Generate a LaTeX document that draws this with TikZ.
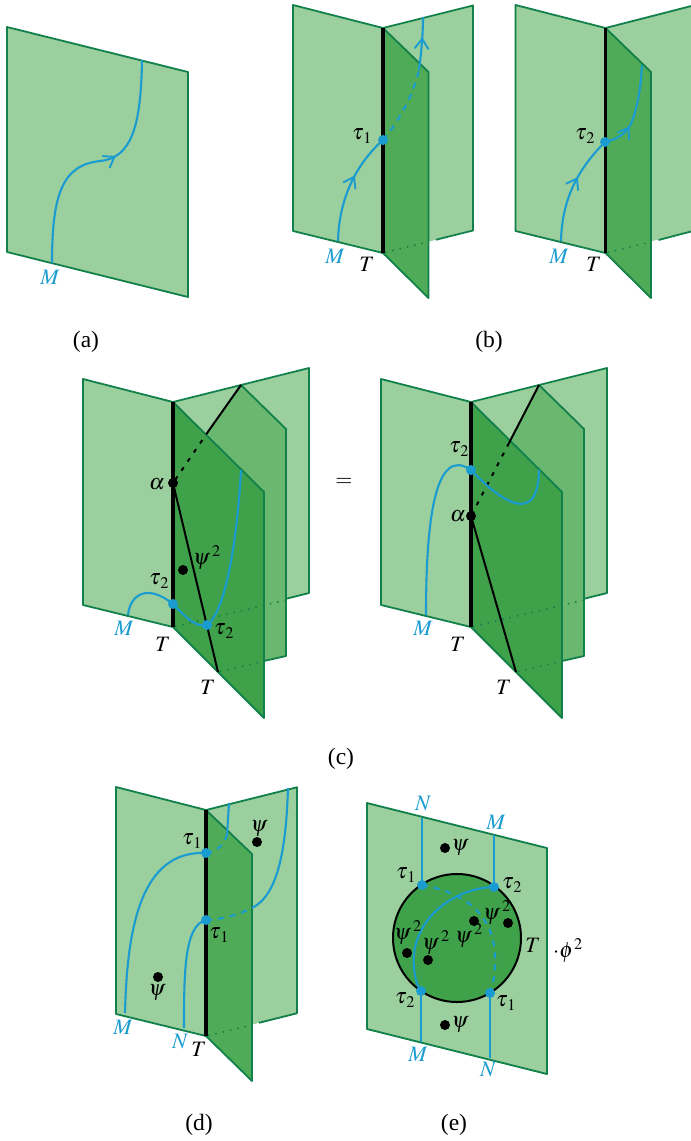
\documentclass[tikz,border=0pt]{standalone}
\usepackage{mathptmx}
\usepackage{fontspec}
\setmainfont{Liberation Serif}
\usetikzlibrary{arrows.meta,decorations.markings}
\definecolor{pgA}{HTML}{9BCF9D}
\definecolor{pgB}{HTML}{4FAB57}
\definecolor{pgC}{HTML}{3FA14A}
\definecolor{pgD}{HTML}{6AB86F}
\definecolor{edgeG}{HTML}{12804A}
\definecolor{lineB}{HTML}{1A9CD0}
\tikzset{
  x=1pt,y=-1pt,
  pagefill/.style={fill=#1,line join=round},
  edgeline/.style={draw=edgeG,line width=1.8pt,line join=round},
  hidden/.style={draw=edgeG,line width=1.5pt,dash pattern=on 1.5pt off 6pt},
  hinge/.style={draw=black,line width=3.4pt},
  blackline/.style={draw=black,line width=2pt},
  blackdash/.style={draw=black,line width=2pt,dash pattern=on 4pt off 7pt},
  blueline/.style={draw=lineB,line width=2.1pt},
  bluedash/.style={draw=lineB,line width=2.1pt,dash pattern=on 6pt off 6pt},
  bluedot/.style={circle,fill=lineB,inner sep=0pt,minimum size=10pt},
  blackdot/.style={circle,fill=black,inner sep=0pt,minimum size=10pt},
  lab/.style={inner sep=0pt,text=black,font=\fontsize{22}{24}\selectfont},
  bluelab/.style={lab,text=lineB},
  caplab/.style={inner sep=0pt,font=\fontsize{23.5}{25}\selectfont},
  midbarb/.style={postaction={decorate,decoration={markings,mark=at position #1 with {\arrow{Straight Barb[length=10pt,width=14pt,line width=1.9pt]}}}}}
}
\newcommand{\tn}[1]{\tau_{\hspace{1.5pt}#1}}
\newcommand{\psq}{\psi^{\hspace{2pt}2}}
% left page and back page: hinge x, hinge top y, hinge bottom y, width of back page, where its bottom edge shows
\newcommand{\twopages}[5]{%
  \path[edgeline,pagefill=pgA] (#1-90,#2-23) -- (#1,#2) -- (#1,#3) -- (#1-90,#3-22) -- cycle;
  \path[pagefill=pgA] (#1,#2) -- (#1+#4,#2-#4*0.25) -- (#1+#4,#3-#4*0.25) -- (#1,#3) -- cycle;
  \draw[edgeline] (#1,#2) -- (#1+#4,#2-#4*0.25) -- (#1+#4,#3-#4*0.25) -- (#1+#5,#3-#5*0.25);
}
\begin{document}
\begin{tikzpicture}
\useasboundingbox (0,0) rectangle (691,1141);

% ---------- (a)
\path[edgeline,pagefill=pgA] (7,27) -- (188,72) -- (188,297) -- (7,252) -- cycle;
\coordinate (a1) at (52,263);
\coordinate (a2) at (142,60);
\draw[blueline,midbarb=.58] (a1) .. controls (52,195) and (62,165) .. (100,161)
  .. controls (132,158) and (141,125) .. (a2);
\node[bluelab] (aM) at (50,277) {$M$};
\node[caplab] (capa) at (86,342) {(a)};

% ---------- (b) left
\twopages{383}{28}{253}{90}{53}
\path[edgeline,pagefill=pgB] (383,28) -- (428.5,72) -- (428.5,298) -- (383,253) -- cycle;
\draw[hidden] (385,252.5) -- (428,242);
\coordinate (b1t) at (383,140);
\coordinate (b1m) at (338,241);
\coordinate (b1e) at (423,17);
\draw[blueline,midbarb=.6] (b1m) .. controls (339,200) and (355,165) .. (b1t);
\draw[bluedash] (b1t) .. controls (400,120) and (413,95) .. (419,70);
\draw[blueline,midbarb=.62] (419,70) .. controls (421,55) and (423,35) .. (b1e);
\draw[hinge] (383,28) -- (383,253);
\node[bluedot] (b1d) at (b1t) {};
\node[lab] (b1tau) at (362,136) {$\tn{1}$};
\node[bluelab] (b1M) at (335,256) {$M$};
\node[lab] (b1T) at (367,264) {$T$};

% ---------- (b) right
\path[edgeline,pagefill=pgA] (515.5,5) -- (605.5,28) -- (605.5,253) -- (515.5,231) -- cycle;
\path[pagefill=pgA] (605.5,28) -- (691,6.1) -- (691,231.1) -- (605.5,253) -- cycle;
\draw[edgeline] (605.5,28) -- (691,6.1);
\draw[edgeline] (658.5,240) -- (691,231.5);
\path[edgeline,pagefill=pgB] (605.5,28) -- (651,72) -- (651,298) -- (605.5,253) -- cycle;
\draw[hidden] (607.5,252.5) -- (650.5,242);
\coordinate (b2t) at (605,142);
\coordinate (b2m) at (561,241);
\coordinate (b2e) at (642,65);
\draw[blueline,midbarb=.6] (b2m) .. controls (562,200) and (577,170) .. (b2t);
\draw[blueline,midbarb=.32] (b2t) .. controls (620,139) and (630,130) .. (633,118)
  .. controls (638,105) and (641,85) .. (b2e);
\draw[hinge] (605.5,28) -- (605.5,253);
\node[bluedot] (b2d) at (b2t) {};
\node[lab] (b2tau) at (585,136) {$\tn{2}$};
\node[bluelab] (b2M) at (559,256) {$M$};
\node[lab] (b2T) at (594,264) {$T$};
\node[caplab] (capb) at (489,342) {(b)};

% ---------- (c) left
\twopages{173}{402}{627}{136}{113}
\path[pagefill=pgD] (241,385) -- (286,429) -- (286,656) -- (218,672) -- (173,483) -- cycle;
\draw[edgeline] (241,385) -- (286,429) -- (286,656) -- (264,661);
\path[edgeline,pagefill=pgC] (173,402) -- (264,492) -- (264,718) -- (173,627) -- cycle;
\draw[hidden] (175,626.5) -- (286,600);
\draw[hidden] (220,671.5) -- (264,661);
\coordinate (c1a) at (173,483);
\coordinate (c1e) at (241,385);
\coordinate (c1b) at (218,672);
\coordinate (c1t) at (173,604);
\coordinate (c1u) at (207,625);
\coordinate (c1m) at (128,615);
\coordinate (c1f) at (241,470);
\draw[blackline] (c1e) -- (208.5,431);
\draw[blackdash] (208.5,431) -- (c1a);
\draw[blackline] (c1a) -- (c1b);
\draw[hinge] (173,402) -- (173,627);
\draw[blueline] (c1m) .. controls (130,595) and (147,583) .. (173,604)
  .. controls (185,616) and (195,628) .. (c1u)
  .. controls (228,610) and (238,525) .. (c1f);
\node[blackdot] (c1ad) at (c1a) {};
\node[blackdot] (c1p) at (183,570) {};
\node[bluedot] (c1td) at (c1t) {};
\node[bluedot] (c1ud) at (c1u) {};
\node[lab] (c1al) at (157,484) {$\alpha$};
\node[lab] (c1pl) at (207,558) {$\psq$};
\node[lab] (c1t1) at (159,581) {$\tn{2}$};
\node[lab] (c1t2) at (224,631) {$\tn{2}$};
\node[bluelab] (c1M) at (124,628) {$M$};
\node[lab] (c1T1) at (163,644) {$T$};
\node[lab] (c1T2) at (208,687) {$T$};

\node[lab] (eq) at (344,482) {$=$};

% ---------- (c) right
\twopages{471}{402}{627}{136}{113}
\path[pagefill=pgD] (539,385) -- (584,429) -- (584,656) -- (516,672) -- (471,516) -- cycle;
\draw[edgeline] (539,385) -- (584,429) -- (584,656) -- (562,661);
\path[edgeline,pagefill=pgC] (471,402) -- (562,492) -- (562,718) -- (471,627) -- cycle;
\draw[hidden] (473,626.5) -- (584,600);
\draw[hidden] (518,671.5) -- (562,661);
\coordinate (c2a) at (471,516);
\coordinate (c2e) at (539,385);
\coordinate (c2b) at (516,672);
\coordinate (c2t) at (471,470);
\coordinate (c2m) at (426,615);
\coordinate (c2f) at (539,470);
\draw[blackline] (c2e) -- (509,443);
\draw[blackdash] (509,443) -- (c2a);
\draw[blackline] (c2a) -- (c2b);
\draw[hinge] (471,402) -- (471,627);
\draw[blueline] (c2m) .. controls (426,520) and (435,445) .. (c2t)
  .. controls (490,490) and (538,535) .. (c2f);
\node[blackdot] (c2ad) at (c2a) {};
\node[bluedot] (c2td) at (c2t) {};
\node[lab] (c2al) at (458,516) {$\alpha$};
\node[lab] (c2t1) at (459,449) {$\tn{2}$};
\node[bluelab] (c2M) at (423,628) {$M$};
\node[lab] (c2T1) at (458,644) {$T$};
\node[lab] (c2T2) at (504,687) {$T$};
\node[caplab] (capc) at (341,759) {(c)};

% ---------- (d)
\twopages{206}{810}{1036}{91}{53}
\path[edgeline,pagefill=pgB] (206,810) -- (252,854) -- (252,1081) -- (206,1036) -- cycle;
\draw[hidden] (208,1035.5) -- (252,1025);
\coordinate (d1) at (206,853);
\coordinate (d2) at (206,920);
\coordinate (dM) at (125,1013);
\coordinate (dN) at (184,1028);
\coordinate (dE) at (229,803);
\coordinate (dF) at (288,788);
\draw[blueline] (dM) .. controls (127,930) and (140,850) .. (d1);
\draw[blueline] (dN) .. controls (184,975) and (184,925) .. (d2);
\draw[bluedash] (d1) .. controls (215,852) and (224,846) .. (227,835);
\draw[blueline] (227,835) -- (dE);
\draw[bluedash] (d2) .. controls (225,919) and (240,914) .. (252,908);
\draw[blueline] (252,908) .. controls (278,895) and (286,850) .. (dF);
\draw[hinge] (206,810) -- (206,1036);
\node[bluedot] (d1d) at (d1) {};
\node[bluedot] (d2d) at (d2) {};
\node[blackdot] (dp1) at (257,842) {};
\node[blackdot] (dp2) at (158,977) {};
\node[lab] (dt1) at (192,841) {$\tn{1}$};
\node[lab] (dt2) at (219,935) {$\tn{1}$};
\node[lab] (dpl1) at (259,829) {$\psi$};
\node[lab] (dpl2) at (157,993) {$\psi$};
\node[bluelab] (dML) at (123,1027) {$M$};
\node[bluelab] (dNL) at (180,1042) {$N$};
\node[lab] (dTL) at (199,1049) {$T$};
\node[caplab] (capd) at (199,1125) {(d)};

% ---------- (e)
\path[edgeline,pagefill=pgA] (367,803) -- (547,848) -- (547,1074) -- (367,1029) -- cycle;
\node[circle,draw=black,line width=2pt,fill=pgC,minimum size=128pt,inner sep=0pt] (disc) at (457,938) {};
\coordinate (e1) at (422,885);
\coordinate (e2) at (494,887);
\coordinate (e3) at (421,991);
\coordinate (e4) at (490,993);
\coordinate (e1t) at (422,818);
\coordinate (e2t) at (494,835);
\coordinate (e3b) at (421,1042);
\coordinate (e4b) at (490,1058);
\draw[blueline] (e1t) -- (e1);
\draw[blueline] (e2t) -- (e2);
\draw[blueline] (e3) -- (e3b);
\draw[blueline] (e4) -- (e4b);
\draw[blueline] (e2) .. controls (450,888) and (405,925) .. (415,975) .. controls (416,982) and (418,986) .. (e3);
\draw[bluedash] (e1) .. controls (450,890) and (497,905) .. (495,963) .. controls (495,975) and (493,985) .. (e4);
\node[bluedot] (e1d) at (e1) {};
\node[bluedot] (e2d) at (e2) {};
\node[bluedot] (e3d) at (e3) {};
\node[bluedot] (e4d) at (e4) {};
\node[blackdot] (ep1) at (445,848) {};
\node[blackdot] (ep2) at (445,1025) {};
\node[blackdot] (ep3) at (474,921) {};
\node[blackdot] (ep4) at (508,923) {};
\node[blackdot] (ep5) at (407,953) {};
\node[blackdot] (ep6) at (428,960) {};
\node[lab] (epl1) at (460,848) {$\psi$};
\node[lab] (epl2) at (460,1025) {$\psi$};
\node[lab] (epl3) at (497,913) {$\psq$};
\node[lab] (epl4) at (469,936) {$\psq$};
\node[lab] (epl5) at (408,933) {$\psq$};
\node[lab] (epl6) at (436,943) {$\psq$};
\node[lab] (et1) at (406,875) {$\tn{1}$};
\node[lab] (et2) at (512,885) {$\tn{2}$};
\node[lab] (et3) at (405,1000) {$\tn{2}$};
\node[lab] (et4) at (506,1003) {$\tn{1}$};
\node[lab] (eT) at (533,945) {$T$};
\node[lab] (ephi) at (568,951) {$\cdot\phi^{\hspace{1pt}2}$};
\node[bluelab] (eN1) at (423,804) {$N$};
\node[bluelab] (eM1) at (496,822) {$M$};
\node[bluelab] (eM2) at (418,1054) {$M$};
\node[bluelab] (eN2) at (488,1070) {$N$};
\node[caplab] (cape) at (454,1125) {(e)};
\end{tikzpicture}
\end{document}
